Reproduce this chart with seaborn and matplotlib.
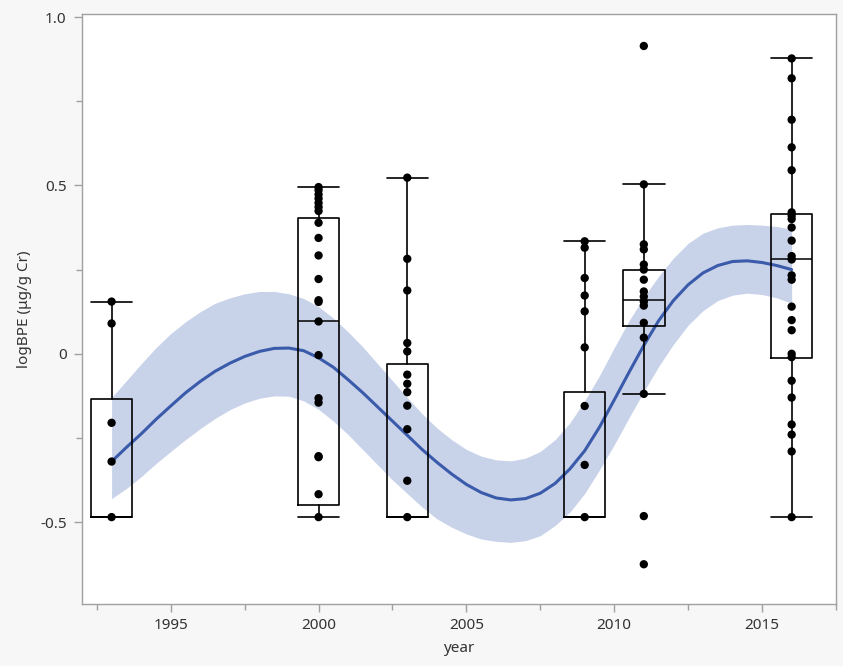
import numpy as np
import pandas as pd
import matplotlib
matplotlib.use("Agg")
import matplotlib.pyplot as plt
import seaborn as sns
from matplotlib.ticker import MultipleLocator

# ---------------- data ----------------
box_years = [1993, 2000, 2003, 2009, 2011, 2016]

pts_1993 = [0.155, 0.09, -0.205, -0.32, -0.485]
pts_2000 = [0.495, 0.486, 0.473, 0.461, 0.448, 0.436, 0.424, 0.389, 0.344, 0.292,
            0.222, 0.159, 0.154, 0.096, -0.004, -0.132, -0.145, -0.304, -0.307,
            -0.417, -0.485]
pts_2003 = [0.523, 0.282, 0.188, 0.032, 0.007, -0.062, -0.089, -0.114, -0.154,
            -0.224, -0.377, -0.485]
pts_2009 = [0.334, 0.315, 0.225, 0.173, 0.126, 0.019, -0.155, -0.330, -0.485]
pts_2011 = [0.914, 0.503, 0.325, 0.31, 0.265, 0.25, 0.22, 0.185, 0.17, 0.155,
            0.143, 0.092, 0.048, -0.119, -0.482, -0.625]
pts_2016 = [0.877, 0.818, 0.695, 0.613, 0.545, 0.42, 0.41, 0.40, 0.375, 0.336,
            0.29, 0.28, 0.233, 0.22, 0.14, 0.10, 0.07, 0.0, -0.01, -0.08, -0.13,
            -0.21, -0.24, -0.29, -0.485]

# box statistics as drawn (quantiles / whisker ends)
box_q1 = [-0.485, -0.449, -0.485, -0.485, 0.083, -0.012]
box_med = [-0.485, 0.096, -0.485, -0.485, 0.160, 0.280]
box_q3 = [-0.133, 0.404, -0.030, -0.114, 0.250, 0.414]
box_lo = [-0.485, -0.485, -0.485, -0.485, -0.119, -0.485]
box_hi = [0.155, 0.495, 0.523, 0.334, 0.503, 0.877]

# smoother fit and confidence band, read every half year
fit_years = [1993.0, 1993.5, 1994.0, 1994.5, 1995.0, 1995.5, 1996.0, 1996.5,
             1997.0, 1997.5, 1998.0, 1998.5, 1999.0, 1999.5, 2000.0, 2000.5,
             2001.0, 2001.5, 2002.0, 2002.5, 2003.0, 2003.5, 2004.0, 2004.5,
             2005.0, 2005.5, 2006.0, 2006.5, 2007.0, 2007.5, 2008.0, 2008.5,
             2009.0, 2009.5, 2010.0, 2010.5, 2011.0, 2011.5, 2012.0, 2012.5,
             2013.0, 2013.5, 2014.0, 2014.5, 2015.0, 2015.5, 2016.0]
fit_mean = [-0.320, -0.278, -0.238, -0.195, -0.155, -0.116, -0.082, -0.052,
            -0.028, -0.008, 0.007, 0.016, 0.017, 0.009, -0.012, -0.040,
            -0.077, -0.116, -0.158, -0.200, -0.242, -0.284, -0.322, -0.357,
            -0.388, -0.412, -0.428, -0.434, -0.430, -0.414, -0.385, -0.342,
            -0.288, -0.218, -0.137, -0.055, 0.025, 0.098, 0.158, 0.205,
            0.240, 0.262, 0.274, 0.276, 0.271, 0.262, 0.250]
fit_upper = [-0.130, -0.080, -0.030, 0.018, 0.060, 0.095, 0.125, 0.150,
             0.166, 0.178, 0.185, 0.185, 0.178, 0.164, 0.140, 0.106,
             0.065, 0.020, -0.030, -0.080, -0.130, -0.178, -0.220, -0.255,
             -0.284, -0.304, -0.315, -0.318, -0.310, -0.290, -0.255, -0.205,
             -0.140, -0.065, 0.018, 0.098, 0.168, 0.230, 0.284, 0.328,
             0.358, 0.374, 0.382, 0.384, 0.382, 0.378, 0.370]
fit_lower = [-0.430, -0.400, -0.365, -0.326, -0.290, -0.255, -0.222, -0.192,
             -0.166, -0.146, -0.132, -0.125, -0.126, -0.140, -0.165, -0.200,
             -0.240, -0.285, -0.330, -0.375, -0.415, -0.455, -0.490, -0.515,
             -0.535, -0.550, -0.557, -0.560, -0.555, -0.540, -0.510, -0.470,
             -0.415, -0.345, -0.270, -0.190, -0.112, -0.038, 0.028, 0.085,
             0.128, 0.158, 0.174, 0.180, 0.176, 0.166, 0.150]

# ---------------- build tables ----------------
groups = [pts_1993, pts_2000, pts_2003, pts_2009, pts_2011, pts_2016]
pts = pd.DataFrame({
    "year": np.concatenate([[y] * len(g) for y, g in zip(box_years, groups)]),
    "logBPE": np.concatenate(groups),
})
fit = pd.DataFrame({"year": fit_years, "mean": fit_mean,
                    "upper": fit_upper, "lower": fit_lower})

# ---------------- figure ----------------
sns.set_style("white")
plt.rcParams["font.family"] = ["Noto Sans", "DejaVu Sans"]

fig = plt.figure(figsize=(8.43, 6.66), dpi=100, facecolor="#f7f7f7")
ax = fig.add_axes([0.0973, 0.0931, 0.8944, 0.8859])
ax.set_facecolor("white")

# confidence band + fit line
ax.fill_between(fit["year"], fit["lower"], fit["upper"], color="#c8d2e9",
                linewidth=0, zorder=1)
sns.lineplot(data=fit, x="year", y="mean", ax=ax, color="#3a5aaa",
             linewidth=2.2, zorder=2)

# boxes
stats = []
for i in range(len(box_years)):
    stats.append(dict(med=box_med[i], q1=box_q1[i], q3=box_q3[i],
                      whislo=box_lo[i], whishi=box_hi[i], fliers=[]))
lp = dict(color="black", linewidth=1.2)
ax.bxp(stats, positions=box_years, widths=1.4, showfliers=False,
       patch_artist=False, boxprops=lp, whiskerprops=lp, capprops=lp,
       medianprops=dict(color="black", linewidth=1.1), capwidths=1.4,
       manage_ticks=False, zorder=3)

# points
sns.scatterplot(data=pts, x="year", y="logBPE", ax=ax, color="black", s=36,
                edgecolor="none", zorder=4)

# axes styling
ax.set_xlim(1992.0, 2017.5)
ax.set_ylim(-0.743, 1.009)
ax.xaxis.set_minor_locator(MultipleLocator(2.5))
ax.yaxis.set_minor_locator(MultipleLocator(0.25))
ax.set_xticks([1995, 2000, 2005, 2010, 2015])
ax.set_yticks([-0.5, 0, 0.5, 1.0])
ax.set_yticklabels(["-0.5", "0", "0.5", "1.0"])
ax.tick_params(axis="both", which="both", direction="out", color="#a0a0a0",
               labelcolor="#333333", labelsize=11)
ax.tick_params(which="major", length=6, width=1)
ax.tick_params(which="minor", length=4, width=1)
ax.tick_params(axis="x", which="both", bottom=True, pad=4)
ax.tick_params(axis="y", which="both", left=True, pad=5)
for sp in ax.spines.values():
    sp.set_color("#a0a0a0")
    sp.set_linewidth(1)

ax.set_xlabel("year", fontsize=11, color="#333333", labelpad=6)
ax.set_ylabel("logBPE (μg/g Cr)", fontsize=11, color="#333333", labelpad=6)

fig.savefig("out.png", dpi=100, facecolor=fig.get_facecolor())
